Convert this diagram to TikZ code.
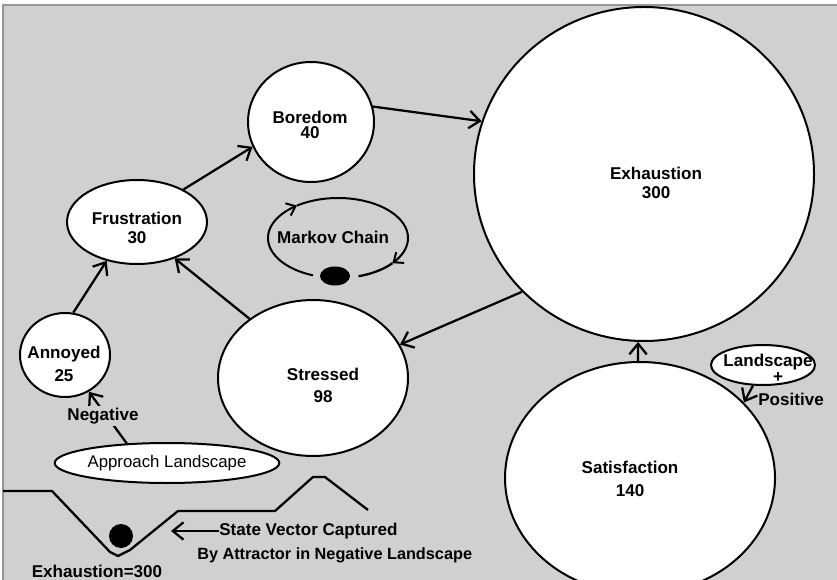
\documentclass[tikz,border=0pt]{standalone}
\usepackage{fontspec}
\setmainfont{Liberation Sans}
\usetikzlibrary{shapes.geometric, arrows.meta}
\definecolor{panel}{RGB}{208,208,208}
\definecolor{rim}{RGB}{150,150,150}
\begin{document}
\begin{tikzpicture}[x=0.75pt, y=-0.75pt,
  state/.style={ellipse, draw=black, line width=1.5pt, fill=white, inner sep=0pt},
  lbl/.style={font=\fontsize{12.8}{14.5}\selectfont\bfseries, align=center, inner sep=0pt},
  plainlbl/.style={font=\fontsize{12.6}{14.5}\selectfont, inner sep=0pt},
  link/.style={line width=1.7pt, -{Straight Barb[length=8pt,width=13pt]}},
  smalllink/.style={line width=1.5pt, -{Straight Barb[length=6pt,width=10pt]}},
  curve/.style={line width=1.7pt, line join=round}
]
\useasboundingbox (0,0) rectangle (837,580);
\fill[white] (0,0) rectangle (837,580);
\fill[panel] (3,5) rectangle (837,580);
\draw[rim, line width=0.8pt] (3,580) -- (3,5) -- (837,5);

% states
\node[state, minimum width=255pt, minimum height=250.5pt] (exh) at (644,174) {};
\node[state, minimum width=94.5pt, minimum height=90pt] (bor) at (311,122) {};
\node[state, minimum width=105pt, minimum height=63pt] (fru) at (137,222) {};
\node[state, minimum width=67.5pt, minimum height=63pt] (ann) at (65,355) {};
\node[state, minimum width=142.5pt, minimum height=117pt] (str) at (313,378) {};
\node[state, minimum width=202.5pt, minimum height=174pt] (sat) at (640,478) {};
\node[state, minimum width=78pt, minimum height=30pt] (lp) at (763,365) {};
\node[state, minimum width=132pt, minimum height=30pt, plainlbl] (app) at (167,463) {Approach Landscape};

% state captions
\node[lbl] (exh-t) at (656,183) {Exhaustion\\300};
\node[lbl] (bor-t) at (310,125) {Boredom\\[-3pt]40};
\node[lbl] (fru-t) at (137,228) {Frustration\\30};
\node[lbl] (ann-t) at (64,364) {Annoyed\\[3pt]25};
\node[lbl] (str-t) at (323,385) {Stressed\\[2pt]98};
\node[lbl] (sat-t) at (630,479) {Satisfaction\\[3pt]140};
\node[lbl] (lp-t) at (768,362) {Landscape};
\node[lbl] (lp-plus) at (778,377) {+};

% transitions
\draw[link] (ann.79) -- (fru.232);
\draw[link] (fru.35) -- (bor.203);
\draw[link] (bor.14) -- (exh.162);
\draw[link] (exh.224) -- (str.21);
\draw[link] (str.137) -- (fru.316);
\draw[link] (sat.91) -- (exh.268);
\draw[link] (lp.244) -- (sat.36);
\draw[link] (app.154) -- (ann.303);
\node[lbl, fill=panel, inner sep=1.5pt] (neg) at (103,416) {Negative};
\node[lbl] (pos) at (791,399) {Positive};

% Markov chain loop
\node[lbl] (mk) at (333,237) {Markov Chain};
\draw[curve, smalllink] plot[domain=111:234, samples=40, smooth] ({338+70*cos(\x)}, {238+40*sin(\x)});
\draw[curve, smalllink] plot[domain=234:399, samples=60, smooth] ({338+70*cos(\x)}, {238+40*sin(\x)});
\draw[curve] plot[domain=399:433, samples=20, smooth] ({338+70*cos(\x)}, {238+40*sin(\x)});
\fill (335,276) ellipse[x radius=15, y radius=9.5];

% negative landscape profile
\draw[curve] (3,491) -- (52,491) -- (110,552) -- (118,556) -- (130,550)
  -- (178,511) -- (275,511) -- (313,477) -- (325,477) -- (368,510);
\fill (121,536) circle[radius=12];
\coordinate (svtip) at (171,531);
\node[lbl, anchor=west] (sv1) at (219,531) {State Vector Captured};
\draw[link] (sv1.west) -- (svtip);
\node[lbl, anchor=west, font=\fontsize{12.2}{14.5}\selectfont\bfseries] (sv2) at (197,555) {By Attractor in Negative Landscape};
\node[lbl] (ex300) at (97,571) {Exhaustion=300};
\end{tikzpicture}
\end{document}
